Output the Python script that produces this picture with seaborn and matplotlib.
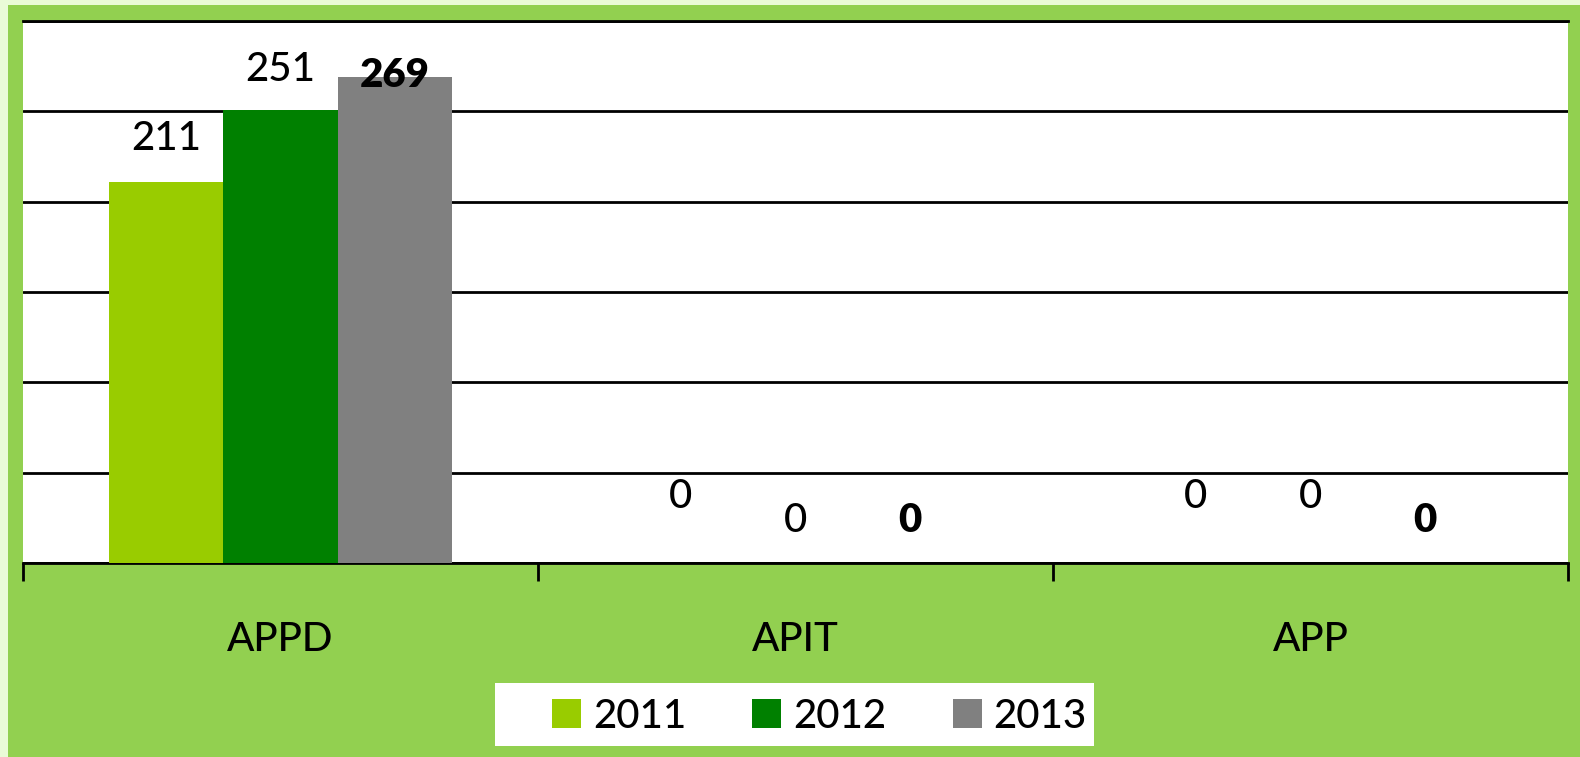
import matplotlib
matplotlib.use("Agg")
import matplotlib.pyplot as plt
import seaborn as sns
import pandas as pd
from matplotlib.patches import Rectangle

categories = ["APPD", "APIT", "APP"]
years = ["2011", "2012", "2013"]
values_2011 = [211, 0, 0]
values_2012 = [251, 0, 0]
values_2013 = [269, 0, 0]
colors = ["#99CC00", "#008000", "#808080"]

rows = []
for yr, vals in zip(years, [values_2011, values_2012, values_2013]):
    for c, v in zip(categories, vals):
        rows.append({"cat": c, "year": yr, "val": v})
df = pd.DataFrame(rows)

sns.set_theme(style="white")
FAM = ["Lato", "DejaVu Sans"]
plt.rcParams["font.family"] = FAM
plt.rcParams["font.weight"] = "medium"

W, H = 1580, 757
fig = plt.figure(figsize=(W / 100, H / 100), dpi=100)
fig.patch.set_facecolor("#EAFBD7")
fig.patches.append(Rectangle((8 / W, 0), 1, 1 - 5 / H, transform=fig.transFigure,
                             facecolor="#92D050", edgecolor="none", zorder=-5))
# legend background box
fig.patches.append(Rectangle((495 / W, 1 - 746 / H), (1094 - 495) / W, (746 - 683) / H,
                             transform=fig.transFigure, facecolor="white",
                             edgecolor="none", zorder=-4))

L, R, T, B = 23, 1568, 21, 563
ax = fig.add_axes([L / W, 1 - B / H, (R - L) / W, (B - T) / H])
ax.set_zorder(2)
ax.set_facecolor("white")

sns.barplot(data=df, x="cat", y="val", hue="year", palette=colors, width=0.667,
            saturation=1, edgecolor="none", linewidth=0, ax=ax, legend=True, zorder=3)

ax.set_ylim(0, 300)
ax.set_xlim(-0.5, 2.5)
ax.set_yticks(range(0, 301, 50))
ax.yaxis.grid(True, color="black", linewidth=2.0, zorder=1)
ax.set_axisbelow(True)
ax.tick_params(axis="y", left=False, labelleft=False)
for s in ["left", "right"]:
    ax.spines[s].set_visible(False)
ax.spines["top"].set_color("black")
ax.spines["top"].set_linewidth(2.0)
ax.spines["bottom"].set_color("black")
ax.spines["bottom"].set_linewidth(2.0)
ax.set_xlabel("")
ax.set_ylabel("")

ax.set_xticks([-0.5, 0.5, 1.5, 2.5], minor=True)
ax.tick_params(axis="x", which="minor", bottom=True, length=13, width=2.0, color="black", direction="out")
ax.tick_params(axis="x", which="major", length=0, pad=42, labelsize=29, labelcolor="black")

# label offsets in pixels above bar top (per year, per category)
label_offsets = [[43, 67, 67], [40, 42, 67], [2, 42, 42]]
for i, cont in enumerate(ax.containers):
    for j, bar in enumerate(cont):
        x = bar.get_x() + bar.get_width() / 2
        h = bar.get_height()
        val = [values_2011, values_2012, values_2013][i][j]
        ax.annotate(f"{val}", (x, h), xytext=(0, label_offsets[i][j] * 0.72),
                    textcoords="offset points", ha="center", va="center",
                    fontsize=29, fontweight="heavy" if i == 2 else "medium",
                    color="black", zorder=5, annotation_clip=False)

handles, labels = ax.get_legend_handles_labels()
ax.get_legend().remove()
leg = fig.legend(handles, labels, loc="center left", ncol=3,
                 bbox_to_anchor=(552 / W, 1 - 716 / H),
                 frameon=False, fontsize=29,
                 handlelength=0.72, handleheight=0.72, handletextpad=0.3,
                 columnspacing=1.64, borderpad=0, borderaxespad=0)
for t in leg.get_texts():
    t.set_color("black")

fig.savefig("out.png", dpi=100, facecolor=fig.get_facecolor())
